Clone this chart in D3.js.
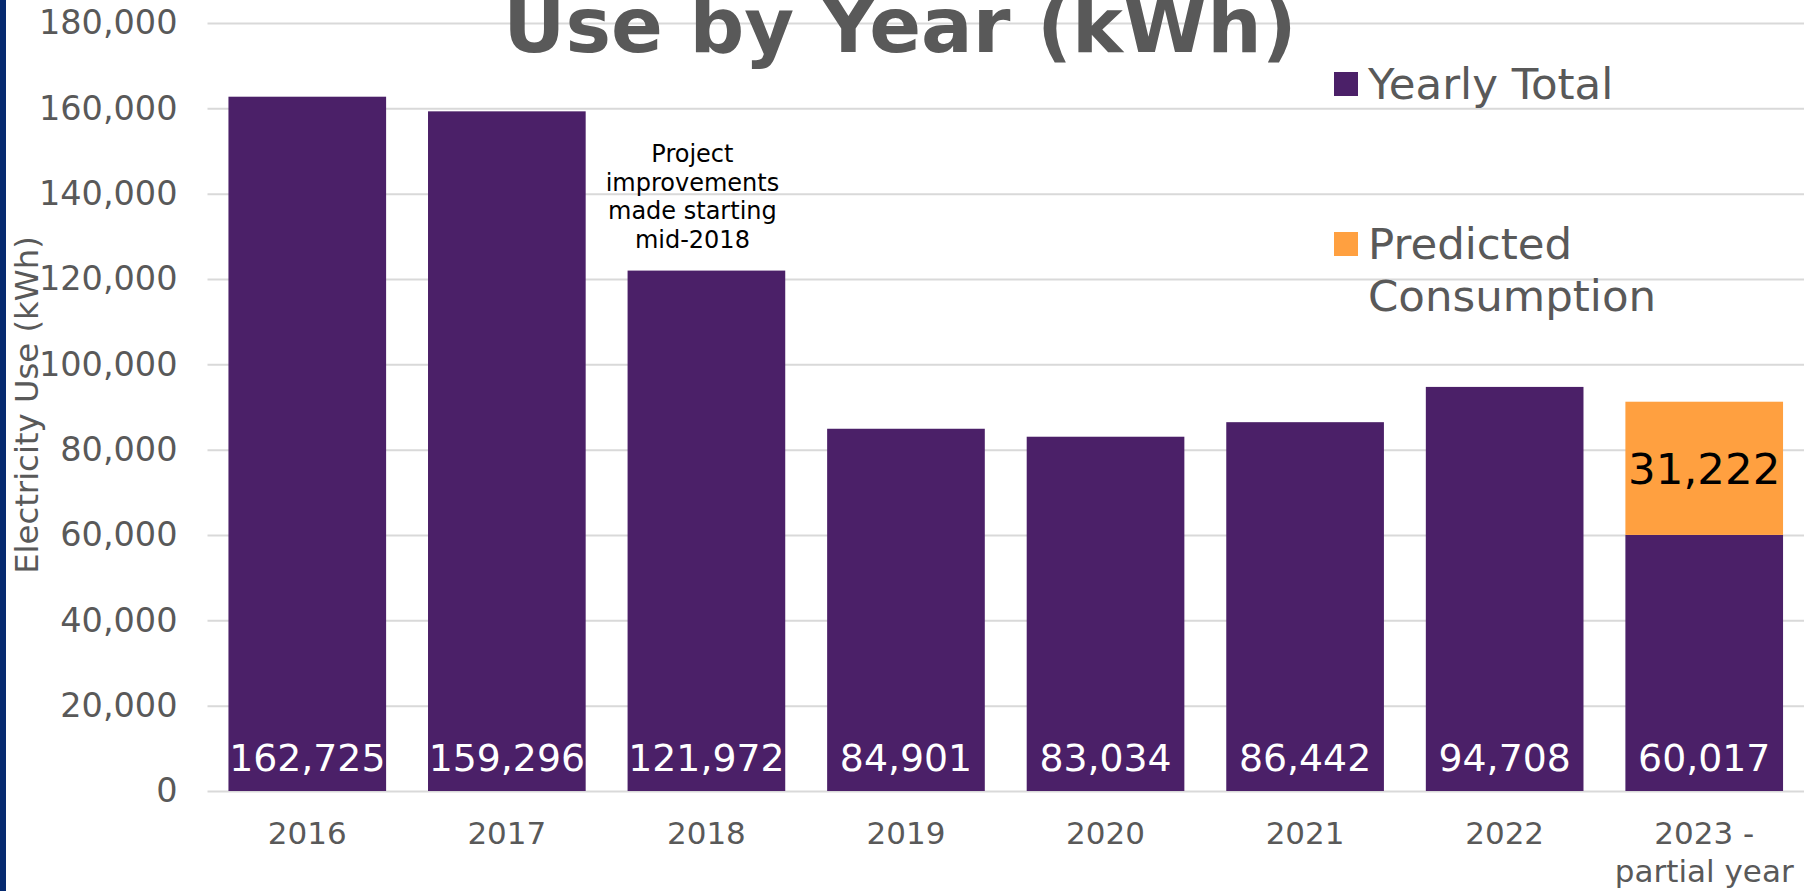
<!DOCTYPE html>
<html>
<head>
<meta charset="utf-8">
<script src="https://cdn.jsdelivr.net/npm/d3@7"></script>
<style>
  body { margin: 0; background: #fff; }
  svg { display: block; font-family: Verdana, "DejaVu Sans", sans-serif; }
</style>
</head>
<body>
<svg width="1816" height="891"></svg>
<script>
const svg = d3.select("svg");

// DATA
const years = ["2016", "2017", "2018", "2019", "2020", "2021", "2022", "2023"];
const yearLabels = [["2016"], ["2017"], ["2018"], ["2019"], ["2020"], ["2021"], ["2022"], ["2023 -", "partial year"]];
const yearlyTotal = [162725, 159296, 121972, 84901, 83034, 86442, 94708, 60017];
const predicted = [0, 0, 0, 0, 0, 0, 0, 31222];
const yTicks = [0, 20000, 40000, 60000, 80000, 100000, 120000, 140000, 160000, 180000];
const seriesNames = ["Yearly Total", "Predicted Consumption"];

// CONSTANTS
const purple = "#4b2068";
const orange = "#ffa040";
const grey = "#595959";
const plot = { left: 207.5, right: 1804, top: 23, bottom: 791 };

// scales
const xScale = d3.scaleBand()
  .domain(years)
  .range([plot.left, plot.right])
  .paddingInner(0.21)
  .paddingOuter(0.105);

const yScale = d3.scaleLinear()
  .domain([0, 180000])
  .range([plot.bottom, plot.top]);

const fmt = d3.format(",");

// left border strip
svg.append("rect")
  .attr("x", 0).attr("y", 0)
  .attr("width", 6).attr("height", 891)
  .attr("fill", "#062a70");

// y axis with gridlines
const yAxis = svg.append("g")
  .attr("transform", `translate(${plot.left},0)`)
  .call(d3.axisLeft(yScale)
    .tickValues(yTicks)
    .tickFormat(fmt)
    .tickSize(-(plot.right - plot.left))
    .tickPadding(30));
yAxis.select(".domain").remove();
yAxis.selectAll(".tick line").attr("stroke", "#d9d9d9").attr("stroke-width", 2);
yAxis.selectAll(".tick text")
  .attr("fill", grey)
  .attr("font-size", 33.5)
  .attr("font-family", "Verdana, 'DejaVu Sans', sans-serif");

// bars - yearly total
const data = years.map((y, i) => ({ year: y, total: yearlyTotal[i], pred: predicted[i] }));

svg.append("g").selectAll("rect")
  .data(data)
  .enter()
  .append("rect")
  .attr("x", d => xScale(d.year))
  .attr("y", d => yScale(d.total))
  .attr("width", xScale.bandwidth())
  .attr("height", d => yScale(0) - yScale(d.total))
  .attr("fill", purple);

// stacked predicted part
svg.append("g").selectAll("rect")
  .data(data.filter(d => d.pred > 0))
  .enter()
  .append("rect")
  .attr("x", d => xScale(d.year))
  .attr("y", d => yScale(d.total + d.pred))
  .attr("width", xScale.bandwidth())
  .attr("height", d => yScale(d.total) - yScale(d.total + d.pred))
  .attr("fill", orange);

// value labels inside base
svg.append("g").selectAll("text")
  .data(data)
  .enter()
  .append("text")
  .attr("x", d => xScale(d.year) + xScale.bandwidth() / 2)
  .attr("y", yScale(0) - 20)
  .attr("text-anchor", "middle")
  .attr("fill", "#fff")
  .attr("font-size", 37.8)
  .text(d => fmt(d.total));

svg.append("g").selectAll("text")
  .data(data.filter(d => d.pred > 0))
  .enter()
  .append("text")
  .attr("x", d => xScale(d.year) + xScale.bandwidth() / 2)
  .attr("y", d => (yScale(d.total) + yScale(d.total + d.pred)) / 2 + 16)
  .attr("text-anchor", "middle")
  .attr("fill", "#000")
  .attr("font-size", 43.5)
  .text(d => fmt(d.pred));

// x axis labels
const xLab = svg.append("g").selectAll("text")
  .data(years)
  .enter()
  .append("text")
  .attr("text-anchor", "middle")
  .attr("fill", grey)
  .attr("font-size", 31)
  .attr("transform", d => `translate(${xScale(d) + xScale.bandwidth() / 2},844)`);
xLab.selectAll("tspan")
  .data((d, i) => yearLabels[i])
  .enter()
  .append("tspan")
  .attr("x", 0)
  .attr("y", (d, i) => i * 38)
  .text(d => d);

// y axis title
svg.append("text")
  .attr("transform", "translate(38,405) rotate(-90)")
  .attr("text-anchor", "middle")
  .attr("fill", grey)
  .attr("font-size", 32.3)
  .text("Electricity Use (kWh)");

// title (partly cut off at the top, as in the original)
svg.append("text")
  .attr("x", 900)
  .attr("y", 52)
  .attr("text-anchor", "middle")
  .attr("fill", grey)
  .attr("font-size", 76.5)
  .attr("font-weight", "bold")
  .text("Use by Year (kWh)");

// annotation above 2018
const note = svg.append("text")
  .attr("text-anchor", "middle")
  .attr("fill", "#000")
  .attr("font-size", 24);
["Project", "improvements", "made starting", "mid-2018"].forEach((line, i) => {
  note.append("tspan")
    .attr("x", xScale("2018") + xScale.bandwidth() / 2 - 14)
    .attr("y", 162 + i * 28.7)
    .text(line);
});

// legend
const legend = svg.append("g");
const legendItems = [
  { color: purple, lines: [seriesNames[0]], y: 72 },
  { color: orange, lines: ["Predicted", "Consumption"], y: 232 }
];
legendItems.forEach(item => {
  legend.append("rect")
    .attr("x", 1334).attr("y", item.y)
    .attr("width", 24).attr("height", 24)
    .attr("fill", item.color);
  const t = legend.append("text")
    .attr("fill", grey)
    .attr("font-size", 43.5);
  item.lines.forEach((line, i) => {
    t.append("tspan")
      .attr("x", 1368)
      .attr("y", item.y + 27 + i * 52)
      .text(line);
  });
});
</script>
</body>
</html>
